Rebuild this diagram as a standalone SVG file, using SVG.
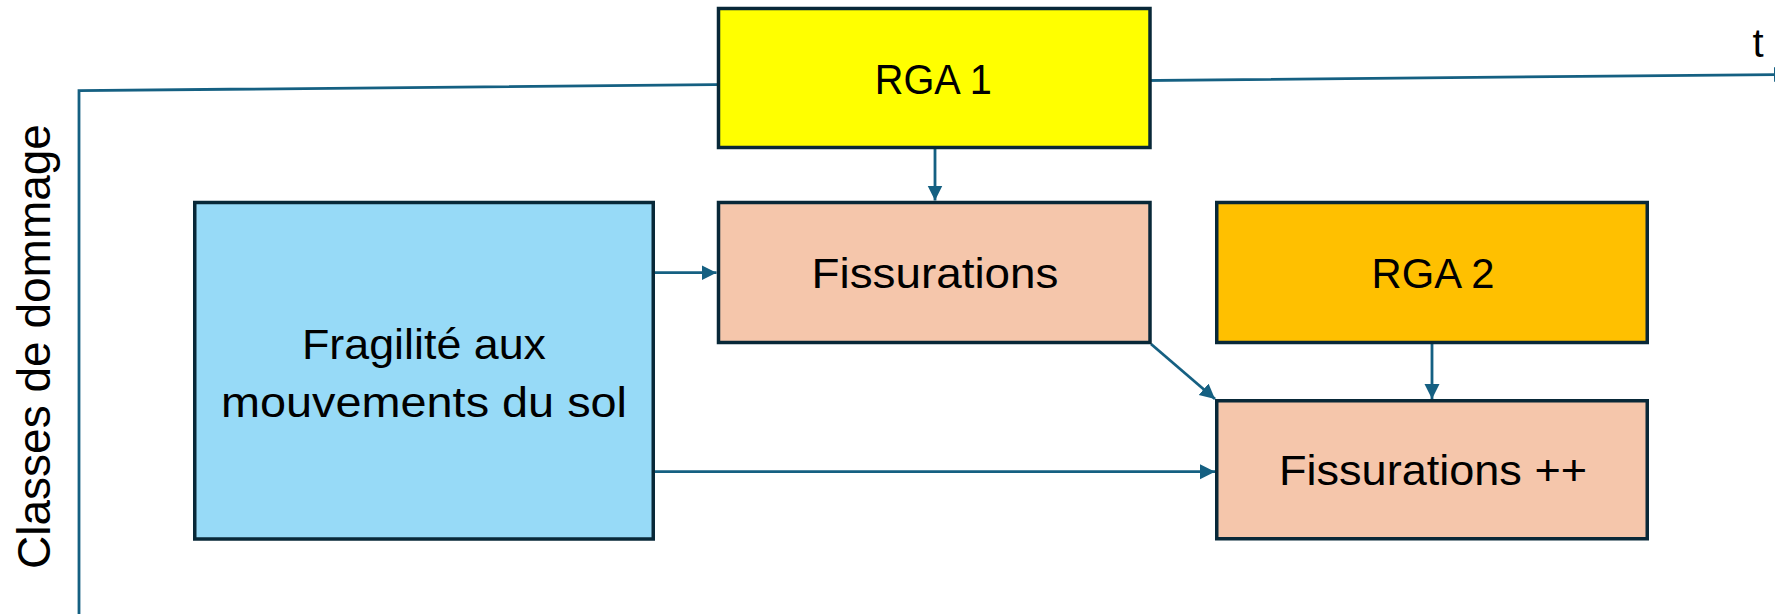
<svg xmlns="http://www.w3.org/2000/svg" width="1775" height="614" viewBox="0 0 1775 614">
<style>
.box{stroke:#082838;stroke-width:3.5}
.lbl{font-family:"Liberation Sans",Arial,sans-serif;font-size:43px;fill:#000;text-anchor:middle}
.con{fill:none;stroke:#156082;stroke-width:2.8}
</style>
<defs>
<marker id="arr" markerUnits="userSpaceOnUse" markerWidth="16" markerHeight="16" viewBox="0 0 16 16" refX="15" refY="7.5" orient="auto">
<path d="M0,0 L15,7.5 L0,15 z" fill="#156082"/>
</marker>
</defs>
<rect width="1775" height="614" fill="#fff"/>
<g id="axes">
<polyline class="con" points="79,614 79,90.7 1789,74.4" marker-end="url(#arr)"/>
<text x="1758" y="57" font-family="'Liberation Sans',Arial,sans-serif" font-size="40" text-anchor="middle" fill="#000">t</text>
<text transform="translate(49.5,346.5) rotate(-90)" font-family="'Liberation Sans',Arial,sans-serif" font-size="46" text-anchor="middle" fill="#000">Classes de dommage</text>
</g>
<g id="connectors">
<line class="con" x1="935" y1="149" x2="935" y2="200.5" marker-end="url(#arr)"/>
<line class="con" x1="655" y1="272.7" x2="716.5" y2="272.7" marker-end="url(#arr)"/>
<line class="con" x1="1151" y1="344" x2="1215" y2="399" marker-end="url(#arr)"/>
<line class="con" x1="1432" y1="344" x2="1432" y2="399" marker-end="url(#arr)"/>
<line class="con" x1="655" y1="471.7" x2="1215" y2="471.7" marker-end="url(#arr)"/>
</g>
<g id="rga1">
<rect class="box" x="718.5" y="8.5" width="431.5" height="139" fill="#FFFF00"/>
<text class="lbl" x="933.3" y="94.3" textLength="117" lengthAdjust="spacingAndGlyphs">RGA 1</text>
</g>
<g id="fissurations">
<rect class="box" x="718.5" y="202.5" width="431.5" height="140" fill="#F5C6AB"/>
<text class="lbl" x="935" y="288.3" textLength="247" lengthAdjust="spacingAndGlyphs">Fissurations</text>
</g>
<g id="fragilite">
<rect class="box" x="194.75" y="202.5" width="458.5" height="336.5" fill="#97DAF7"/>
<text class="lbl" x="424" y="359" textLength="244" lengthAdjust="spacingAndGlyphs">Fragilité aux</text>
<text class="lbl" x="424" y="416.7" textLength="406" lengthAdjust="spacingAndGlyphs">mouvements du sol</text>
</g>
<g id="rga2">
<rect class="box" x="1216.75" y="202.5" width="430.5" height="140" fill="#FFC000"/>
<text class="lbl" x="1433" y="288.3" textLength="123" lengthAdjust="spacingAndGlyphs">RGA 2</text>
</g>
<g id="fissurations2">
<rect class="box" x="1216.75" y="400.75" width="430.5" height="138" fill="#F5C6AB"/>
<text class="lbl" x="1433" y="485" textLength="308" lengthAdjust="spacingAndGlyphs">Fissurations ++</text>
</g>
</svg>
